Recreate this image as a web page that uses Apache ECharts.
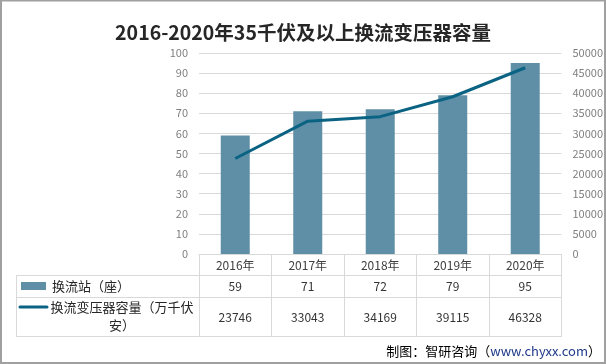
<!DOCTYPE html>
<html>
<head>
<meta charset="utf-8">
<script src="https://cdn.jsdelivr.net/npm/echarts@6/dist/echarts.min.js"></script>
<style>
html,body{margin:0;padding:0;background:#fff;}
#c{width:606px;height:364px;}
</style>
</head>
<body>
<div id="c"></div>
<script>
var titleText = '2016-2020年35千伏及以上换流变压器容量';
var years = ['2016年', '2017年', '2018年', '2019年', '2020年'];
var barName = '换流站（座）';
var lineName = '换流变压器容量（万千伏安）';
var stations = [59, 71, 72, 79, 95];
var capacity = [23746, 33043, 34169, 39115, 46328];
var leftTicks = {min: 0, max: 100, interval: 10};
var rightTicks = {min: 0, max: 50000, interval: 5000};

var CJK = '"Microsoft YaHei","Noto Sans CJK SC",sans-serif';
var gridC = '#d9d9d9';
var barC = '#5e8fa6';
var lineC = '#0b6384';

var chart = echarts.init(document.getElementById('c'), null, {renderer: 'canvas'});

function valueAxis(idx, data, margin) {
  return {
    type: 'category', gridIndex: 0, position: 'bottom', offset: 0,
    data: data.map(String),
    axisLine: {show: false}, axisTick: {show: false}, splitLine: {show: false},
    axisLabel: {interval: 0, margin: margin, verticalAlign: 'middle',
      fontSize: 12, color: '#333', fontFamily: CJK}
  };
}
function plain(v) { return String(v); }

chart.setOption({
  animation: false,
  backgroundColor: '#fff',
  title: {
    text: titleText, left: 'center', top: 18,
    textStyle: {fontSize: 19.5, fontWeight: 'bold', color: '#262626', fontFamily: CJK}
  },
  grid: {left: 199, right: 44, top: 53, bottom: 110, containLabel: false},
  xAxis: [
    {
      type: 'category', data: years, position: 'bottom',
      axisLine: {show: true, lineStyle: {color: gridC, width: 1}},
      axisTick: {show: true, length: 82, alignWithLabel: false, interval: 0, lineStyle: {color: gridC}},
      axisLabel: {interval: 0, margin: 11, verticalAlign: 'middle', fontSize: 12, color: '#404040', fontFamily: CJK},
      splitLine: {show: false}
    },
    valueAxis(1, stations, 32),
    valueAxis(2, capacity, 63)
  ],
  yAxis: [
    {
      type: 'value', min: leftTicks.min, max: leftTicks.max, interval: leftTicks.interval,
      axisLine: {show: false}, axisTick: {show: false},
      axisLabel: {margin: 11, fontSize: 11, color: '#7f7f7f', fontFamily: CJK, formatter: plain},
      splitLine: {lineStyle: {color: gridC, width: 1}}
    },
    {
      type: 'value', position: 'right', min: rightTicks.min, max: rightTicks.max, interval: rightTicks.interval,
      axisLine: {show: false}, axisTick: {show: false},
      axisLabel: {margin: 11, fontSize: 11, color: '#7f7f7f', fontFamily: CJK, formatter: plain},
      splitLine: {show: false}
    }
  ],
  series: [
    {
      name: barName, type: 'bar', xAxisIndex: 0, yAxisIndex: 0,
      data: stations, barWidth: '40%',
      itemStyle: {color: barC}
    },
    {
      name: lineName, type: 'line', xAxisIndex: 0, yAxisIndex: 1,
      data: capacity, showSymbol: false, symbol: 'none',
      lineStyle: {color: lineC, width: 3}
    }
  ],
  graphic: [
    {type: 'rect', shape: {x: 1, y: 0.5, width: 604, height: 362.5}, style: {fill: 'none', stroke: '#a0a0a0', lineWidth: 2}, silent: true},
    {type: 'line', shape: {x1: 16, y1: 275.5, x2: 562, y2: 275.5}, style: {stroke: gridC, lineWidth: 1}},
    {type: 'line', shape: {x1: 16, y1: 297.5, x2: 562, y2: 297.5}, style: {stroke: gridC, lineWidth: 1}},
    {type: 'line', shape: {x1: 16, y1: 336.5, x2: 562, y2: 336.5}, style: {stroke: gridC, lineWidth: 1}},
    {type: 'line', shape: {x1: 16.5, y1: 275, x2: 16.5, y2: 337}, style: {stroke: gridC, lineWidth: 1}},
    {type: 'rect', shape: {x: 21, y: 282, width: 25, height: 8}, style: {fill: barC}},
    {type: 'line', shape: {x1: 20, y1: 307, x2: 47, y2: 307}, style: {stroke: lineC, lineWidth: 3, lineCap: 'round'}},
    {type: 'text', style: {x: 52, y: 286, text: barName, fontSize: 13, fill: '#262626', fontFamily: CJK, align: 'left', verticalAlign: 'middle'}},
    {type: 'text', style: {x: 122, y: 298, text: lineName, width: 146, overflow: 'break', lineHeight: 18, fontSize: 13, fill: '#262626', fontFamily: CJK, align: 'center', verticalAlign: 'top'}},
    {
      type: 'text', right: 5, top: 345,
      style: {
        text: '{a|制图：智研咨询（}{b|www.chyxx.com}{a|）}',
        rich: {
          a: {fontSize: 13, fill: '#000', fontFamily: CJK},
          b: {fontSize: 13, fill: '#1f3a8a', fontFamily: CJK}
        }
      }
    }
  ]
});
</script>
</body>
</html>
